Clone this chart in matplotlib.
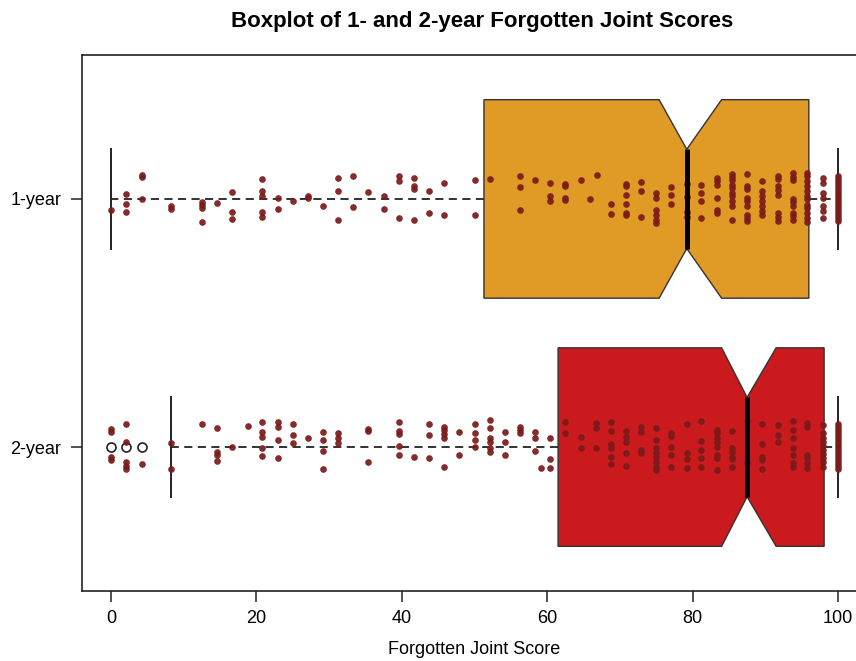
import matplotlib
matplotlib.use("Agg")
import matplotlib.pyplot as plt

plt.rcParams['font.family'] = ['Liberation Sans', 'DejaVu Sans']

# groups, top to bottom
groups = ['1-year', '2-year']
positions = [2, 1]

# box statistics
medians = [79.2, 87.5]
q1s = [51.3, 61.5]
q3s = [96.0, 98.1]
whis_lo = [0.0, 8.3]
whis_hi = [100.0, 100.0]
notch_lo = [75.4, 84.0]
notch_hi = [84.0, 91.5]
outliers = [[], [0.0, 2.1, 4.2]]

# individual scores (score, vertical jitter of each point at that score)
points_1yr = [
    (0.0, [-0.044]),
    (2.1, [0.02, -0.02, -0.052]),
    (4.2, [0.096, 0.088, 0.0]),
    (8.3, [-0.028, -0.04]),
    (12.5, [-0.012, -0.024, -0.036, -0.092]),
    (14.6, [-0.016]),
    (16.7, [0.028, -0.052, -0.08]),
    (20.8, [0.08, 0.032, 0.012, -0.052, -0.072]),
    (22.9, [0.004, -0.04]),
    (25.0, [-0.008]),
    (27.1, [0.012, 0.004]),
    (29.2, [-0.028]),
    (31.2, [0.084, 0.032, -0.084]),
    (33.3, [0.092, -0.032]),
    (35.4, [0.028]),
    (37.5, [0.012, -0.04]),
    (39.6, [0.092, 0.072, -0.076]),
    (41.7, [0.084, 0.052, 0.04, -0.084]),
    (43.8, [0.032, -0.056]),
    (45.8, [0.064, -0.064]),
    (50.0, [0.076, -0.064]),
    (52.1, [0.08]),
    (56.2, [0.092, 0.048, -0.044]),
    (58.3, [0.076]),
    (60.4, [0.064, 0.012, -0.008]),
    (62.5, [0.06, 0.052, 0.004, -0.004]),
    (64.6, [0.076]),
    (65.9, [0.0]),
    (66.8, [0.096]),
    (68.8, [-0.02, -0.06]),
    (70.8, [0.06, 0.052, 0.016, -0.02, -0.056, -0.064]),
    (72.9, [0.068, 0.032, -0.072]),
    (75.0, [0.024, 0.004, -0.044, -0.064, -0.084, -0.096]),
    (77.1, [0.048, 0.016, -0.02]),
    (79.2, [0.06, 0.008, -0.052, -0.072]),
    (81.2, [0.056, 0.024, -0.008, -0.076]),
    (83.3, [0.084, 0.072, 0.056, 0.004, -0.044, -0.056]),
    (85.4, [0.1, 0.088, 0.076, 0.056, 0.044, 0.024, 0.012, -0.008, -0.028, -0.084]),
    (87.5, [0.1, 0.052, 0.04, 0.004, -0.008, -0.028, -0.064, -0.076, -0.088]),
    (89.6, [0.072, 0.032, 0.012, -0.008, -0.028, -0.048, -0.064]),
    (91.7, [0.092, 0.08, 0.052, 0.036, 0.016, -0.056, -0.072, -0.088]),
    (93.8, [0.104, 0.088, 0.076, 0.0, -0.012, -0.028, -0.056, -0.068, -0.084]),
    (95.8, [0.104, 0.092, 0.072, 0.052, 0.032, 0.012, 0.0, -0.024, -0.036, -0.056, -0.076, -0.092]),
    (97.9, [0.084, 0.064, 0.024, 0.004, -0.028, -0.048, -0.076]),
    (100.0, [0.092, 0.08, 0.068, 0.056, 0.044, 0.032, 0.02, 0.008,
             -0.004, -0.016, -0.028, -0.04, -0.052, -0.064, -0.076, -0.088]),
]

points_2yr = [
    (0.0, [0.072, 0.06, -0.04, -0.052]),
    (2.1, [0.092, 0.02, -0.06, -0.076, -0.088]),
    (4.2, [-0.068]),
    (8.3, [0.016, -0.088]),
    (12.5, [0.092]),
    (14.6, [0.076, -0.02, -0.032, -0.056]),
    (16.7, [0.0]),
    (18.8, [0.084]),
    (20.8, [0.1, 0.06, 0.04, -0.004, -0.036]),
    (22.9, [0.1, 0.08, 0.028, -0.044]),
    (25.0, [0.092, 0.048, 0.016]),
    (27.1, [0.036]),
    (29.2, [0.06, 0.028, -0.016, -0.088]),
    (31.2, [0.056, 0.036, 0.016]),
    (35.4, [0.072, 0.064, -0.06]),
    (39.6, [0.1, 0.064, 0.052, 0.004, -0.032]),
    (41.7, [-0.04]),
    (43.8, [0.092, 0.048, -0.044]),
    (45.8, [0.08, 0.068, 0.052, 0.036, -0.08]),
    (47.9, [0.06, -0.032]),
    (50.0, [0.092, 0.056, 0.028, 0.0]),
    (52.1, [0.108, 0.076, 0.036, 0.02, -0.004, -0.02]),
    (54.2, [0.06, 0.02, -0.032]),
    (56.2, [0.08, 0.068, 0.056]),
    (58.3, [0.06, 0.036, -0.016]),
    (59.2, [-0.084]),
    (60.4, [0.036, -0.048, -0.084]),
    (62.5, [0.1, 0.056]),
    (64.6, [0.04, -0.004]),
    (66.7, [0.096, 0.076, -0.004]),
    (68.8, [0.1, 0.064, 0.012, -0.004, -0.04, -0.068]),
    (70.8, [0.064, 0.04, 0.02, -0.024, -0.076]),
    (72.9, [0.08, 0.06, -0.012, -0.024]),
    (75.0, [0.076, 0.028, -0.004, -0.024, -0.04, -0.06, -0.08, -0.092]),
    (77.1, [0.056, 0.044, 0.0, -0.032, -0.08]),
    (79.2, [0.092, -0.024, -0.048, -0.084]),
    (81.2, [0.104, 0.024, -0.012, -0.044, -0.08]),
    (83.3, [0.068, 0.056, 0.036, 0.02, 0.0, -0.032, -0.044, -0.092]),
    (85.4, [0.064, -0.004, -0.02, -0.04, -0.048, -0.08]),
    (87.5, [0.104, -0.064]),
    (89.6, [0.092, 0.012, -0.04, -0.052, -0.088]),
    (91.7, [0.088, 0.048, 0.02]),
    (93.8, [0.104, 0.068, 0.036, -0.004, -0.032, -0.064, -0.08]),
    (95.8, [0.096, 0.08, -0.032, -0.044, -0.064, -0.084]),
    (97.9, [0.088, 0.056, 0.036, 0.02, 0.004, -0.012, -0.028, -0.044, -0.06, -0.08]),
    (100.0, [0.092, 0.08, 0.068, 0.056, 0.044, 0.032, 0.02, 0.008,
             -0.004, -0.016, -0.028, -0.04, -0.052, -0.064, -0.076, -0.088]),
]

xticks = [0, 20, 40, 60, 80, 100]
box_colors = ['#e09a26', '#cb1a1e']
point_color = '#7a1a1a'

fig = plt.figure(figsize=(8.56, 6.61), dpi=100)
# plot frame runs past the right edge of the image, as in the original
ax = fig.add_axes([82 / 856, 70 / 661, 785 / 856, 536 / 661])

stats = []
for i in range(len(groups)):
    stats.append(dict(label=groups[i], med=medians[i], q1=q1s[i], q3=q3s[i],
                      whislo=whis_lo[i], whishi=whis_hi[i],
                      cilo=notch_lo[i], cihi=notch_hi[i], fliers=outliers[i]))

bp = ax.bxp(stats, positions=positions, widths=0.8, shownotches=True,
            orientation='horizontal', patch_artist=True, showfliers=True,
            boxprops=dict(edgecolor='#333333', linewidth=1.0),
            whiskerprops=dict(color='#222222', linewidth=1.3, linestyle=(0, (4.5, 3))),
            capprops=dict(color='#222222', linewidth=1.4),
            medianprops=dict(color='black', linewidth=3.6),
            flierprops=dict(marker='o', markerfacecolor='none',
                            markeredgecolor='#222222', markersize=6.5, markeredgewidth=1.2))

for patch, c in zip(bp['boxes'], box_colors):
    patch.set_facecolor(c)
    patch.set_zorder(1)
for m in bp['medians']:
    m.set_zorder(4)

for pos, pts in zip(positions, [points_1yr, points_2yr]):
    xs, ys = [], []
    for score, jit in pts:
        for j in jit:
            xs.append(score)
            ys.append(pos + j)
    ax.plot(xs, ys, 'o', color=point_color, alpha=0.92, markersize=4.8,
            markeredgewidth=0, zorder=3)

ax.set_xlim(-4, 104)
ax.set_ylim(0.42, 2.58)
ax.set_xticks(xticks)
ax.set_xticklabels([str(t) for t in xticks])
ax.set_yticks(positions)
ax.set_yticklabels(groups)
ax.tick_params(axis='both', labelsize=13, length=8, width=1.1, color='#222222')
ax.tick_params(axis='x', pad=6)
ax.tick_params(axis='y', pad=7)
for sp in ax.spines.values():
    sp.set_linewidth(1.2)
    sp.set_color('#222222')

ax.set_xlabel('Forgotten Joint Score', fontsize=13, labelpad=10)
fig.text(482 / 856, 1 - 22 / 661, 'Boxplot of 1- and 2-year Forgotten Joint Scores',
         ha='center', va='center', fontsize=16, fontweight='bold')

fig.savefig('out.png', dpi=100)
